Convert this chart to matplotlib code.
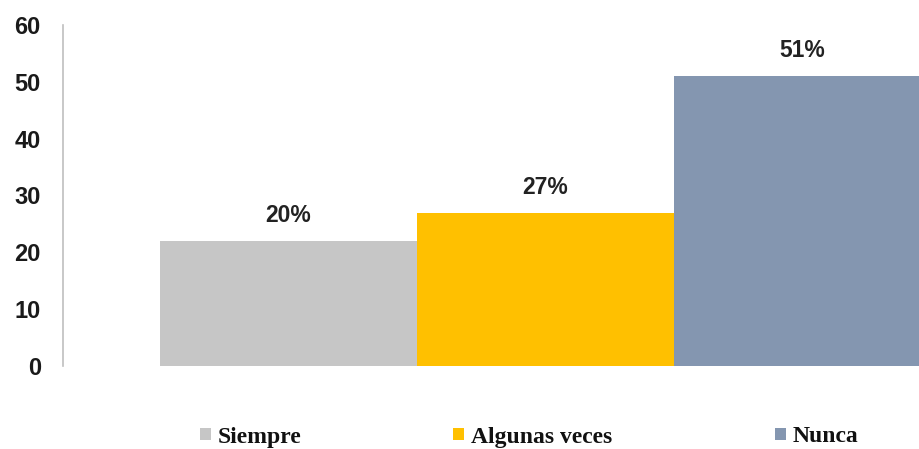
import matplotlib
matplotlib.use("Agg")
import matplotlib.pyplot as plt
from matplotlib.patches import Patch

categories = ["Siempre", "Algunas veces", "Nunca"]
values = [22, 27, 51]
labels = ["20%", "27%", "51%"]
colors = ["#C6C6C6", "#FFC000", "#8496B0"]
yticks = [0, 10, 20, 30, 40, 50, 60]

W, H = 920, 449
fig = plt.figure(figsize=(W / 100, H / 100), dpi=100)
ax = fig.add_axes([63 / W, 83 / H, 1 - 63 / W, (424 - 83) / H])

x = list(range(len(categories)))
ax.bar(x, values, width=1.0, color=colors, edgecolor="none")

for xi, v, lab in zip(x, values, labels):
    ax.annotate(lab, (xi, v), xytext=(0, 10), textcoords="offset points",
                ha="center", va="bottom", fontsize=16.5, fontweight="bold",
                family="Liberation Sans", color="#222222")

ax.set_ylim(0, 60)
ax.set_xlim(-0.877, 2.457)
ax.set_yticks(yticks)
ax.set_yticklabels([str(t) for t in yticks], fontsize=17, fontweight="bold",
                   family="Liberation Sans", color="#1a1a1a")
ax.set_xticks([])
ax.tick_params(axis="y", length=0, pad=16)
for s in ["top", "right", "bottom"]:
    ax.spines[s].set_visible(False)
ax.spines["left"].set_color("#BFBFBF")
ax.spines["left"].set_linewidth(1.2)

# legend entries placed individually (left edge of marker in pixels)
leg_x = [200, 453, 775]
for cat, col, lx in zip(categories, colors, leg_x):
    leg = fig.legend([Patch(facecolor=col, edgecolor="none")], [cat],
                     loc="center left", bbox_to_anchor=(lx / W, 12 / H),
                     frameon=False, handlelength=0.45, handleheight=0.45,
                     handletextpad=0.3, borderpad=0, borderaxespad=0,
                     prop={"family": "Liberation Serif", "weight": "bold", "size": 17})
    for t in leg.get_texts():
        t.set_color("#111111")

fig.savefig("out.png", dpi=100)
